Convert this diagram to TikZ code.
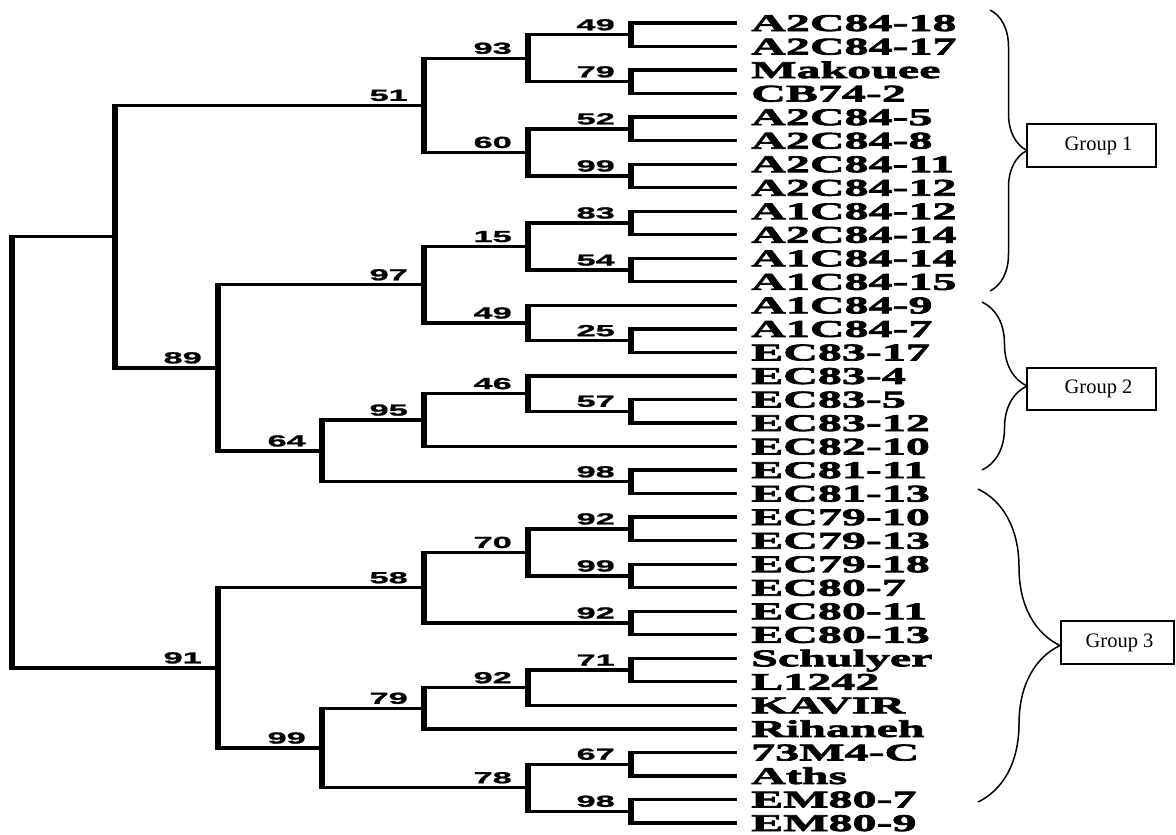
\documentclass[tikz,border=0pt]{standalone}
\usepackage{fontspec}
\setmainfont{Liberation Serif}
\newfontfamily\leaffont[FakeStretch=2.0, FakeBold=3]{Liberation Serif}
\newfontfamily\bootfont[FakeStretch=2.15, FakeBold=1.5]{Liberation Sans}
\usetikzlibrary{decorations.pathreplacing}

\begin{document}
\begin{tikzpicture}[x=1pt, y=-1pt,
	hbar/.style={line width=3.3pt},
	vbar/.style={line width=5.6pt, shorten <=-1.65pt, shorten >=-1.65pt},
	taxon/.style={anchor=base west, inner sep=0pt, xshift=14pt, yshift=-8pt, font=\leaffont\bfseries\fontsize{24}{24}\selectfont},
	boot/.style={anchor=base east, inner sep=0pt, xshift=-16pt, yshift=4.5pt, font=\bootfont\bfseries\fontsize{16}{16}\selectfont},
	grpbox/.style={draw, line width=1.3pt, minimum width=129pt, minimum height=43pt, inner sep=0pt, font=\fontsize{20.5}{20.5}\selectfont},
	grpbrace/.style={decorate, line width=1.5pt}]
	\useasboundingbox (0,0) rectangle (1176,835);
	% leaves
	\foreach \taxname [count=\i from 0] in {A2C84-18, A2C84-17, Makouee, CB74-2, A2C84-5, A2C84-8, A2C84-11, A2C84-12, A1C84-12, A2C84-14, A1C84-14, A1C84-15, A1C84-9, A1C84-7, EC83-17, EC83-4, EC83-5, EC83-12, EC82-10, EC81-11, EC81-13, EC79-10, EC79-13, EC79-18, EC80-7, EC80-11, EC80-13, Schulyer, L1242, KAVIR, Rihaneh, 73M4-C, Aths, EM80-7, EM80-9} {
		\coordinate (e\i) at (737, {23+23.53*\i});
		\node[taxon] (t\i) at (e\i) {\taxname};
	}
	% internal nodes
	\coordinate (n1) at (631,34.77);
	\coordinate (n2) at (631,81.83);
	\coordinate (n3) at (631,128.89);
	\coordinate (n4) at (631,175.95);
	\coordinate (n5) at (631,223.00);
	\coordinate (n6) at (631,270.07);
	\coordinate (n7) at (631,340.66);
	\coordinate (n8) at (631,411.25);
	\coordinate (n9) at (631,481.84);
	\coordinate (n10) at (631,528.90);
	\coordinate (n11) at (631,575.96);
	\coordinate (n12) at (631,623.02);
	\coordinate (n13) at (631,670.08);
	\coordinate (n14) at (631,764.20);
	\coordinate (n15) at (631,811.26);
	\coordinate (n16) at (528,58.30);
	\coordinate (n17) at (528,152.42);
	\coordinate (n18) at (528,246.54);
	\coordinate (n19) at (528,323.01);
	\coordinate (n20) at (528,393.60);
	\coordinate (n21) at (528,552.43);
	\coordinate (n22) at (528,687.73);
	\coordinate (n23) at (528,787.73);
	\coordinate (n24) at (424,105.36);
	\coordinate (n25) at (424,284.78);
	\coordinate (n26) at (424,420.07);
	\coordinate (n27) at (424,587.73);
	\coordinate (n28) at (424,708.31);
	\coordinate (n29) at (322,450.96);
	\coordinate (n30) at (322,748.02);
	\coordinate (n31) at (218,367.87);
	\coordinate (n32) at (218,667.88);
	\coordinate (n33) at (115,236.62);
	\coordinate (root) at (12,452.25);
	% clusters with bootstrap values
	\foreach \p/\a/\b/\v in {n1/e0/e1/49, n2/e2/e3/79, n3/e4/e5/52, n4/e6/e7/99, n5/e8/e9/83, n6/e10/e11/54, n7/e13/e14/25, n8/e16/e17/57, n9/e19/e20/98, n10/e21/e22/92, n11/e23/e24/99, n12/e25/e26/92, n13/e27/e28/71, n14/e31/e32/67, n15/e33/e34/98, n16/n1/n2/93, n17/n3/n4/60, n18/n5/n6/15, n19/e12/n7/49, n20/e15/n8/46, n21/n10/n11/70, n22/n13/e29/92, n23/n14/n15/78, n24/n16/n17/51, n25/n18/n19/97, n26/n20/e18/95, n27/n21/n12/58, n28/n22/e30/79, n29/n26/n9/64, n30/n28/n23/99, n31/n25/n29/89, n32/n27/n30/91} {
		\draw[vbar] (\p |- \a) -- (\p |- \b);
		\draw[hbar] (\p |- \a) -- (\a);
		\draw[hbar] (\p |- \b) -- (\b);
		\node[boot] (s\p) at (\p) {\v};
	}
	\draw[vbar] (n33 |- n24) -- (n33 |- n31);
	\draw[hbar] (n33 |- n24) -- (n24);
	\draw[hbar] (n33 |- n31) -- (n31);
	\draw[vbar] (root |- n33) -- (root |- n32);
	\draw[hbar] (root |- n33) -- (n33);
	\draw[hbar] (root |- n32) -- (n32);
	% groups
	\coordinate (g1top) at (990,10);
	\coordinate (g1bot) at (990,291);
	\coordinate (g2top) at (982,302);
	\coordinate (g2bot) at (982,470);
	\coordinate (g3top) at (978,489);
	\coordinate (g3bot) at (978,802);
	\draw[grpbrace, decoration={brace, amplitude=37pt}] (g1top) -- (g1bot);
	\draw[grpbrace, decoration={brace, amplitude=45pt}] (g2top) -- (g2bot);
	\draw[grpbrace, decoration={brace, amplitude=82pt}] (g3top) -- (g3bot);
	\node[grpbox] (grp1) at (1091.5,145.5) {\hspace*{14pt}Group 1};
	\node[grpbox, minimum height=42pt] (grp2) at (1091.5,389) {\hspace*{14pt}Group 2};
	\node[grpbox, minimum width=113pt] (grp3) at (1117.5,642.5) {\hspace*{4pt}Group 3};
\end{tikzpicture}
\end{document}
